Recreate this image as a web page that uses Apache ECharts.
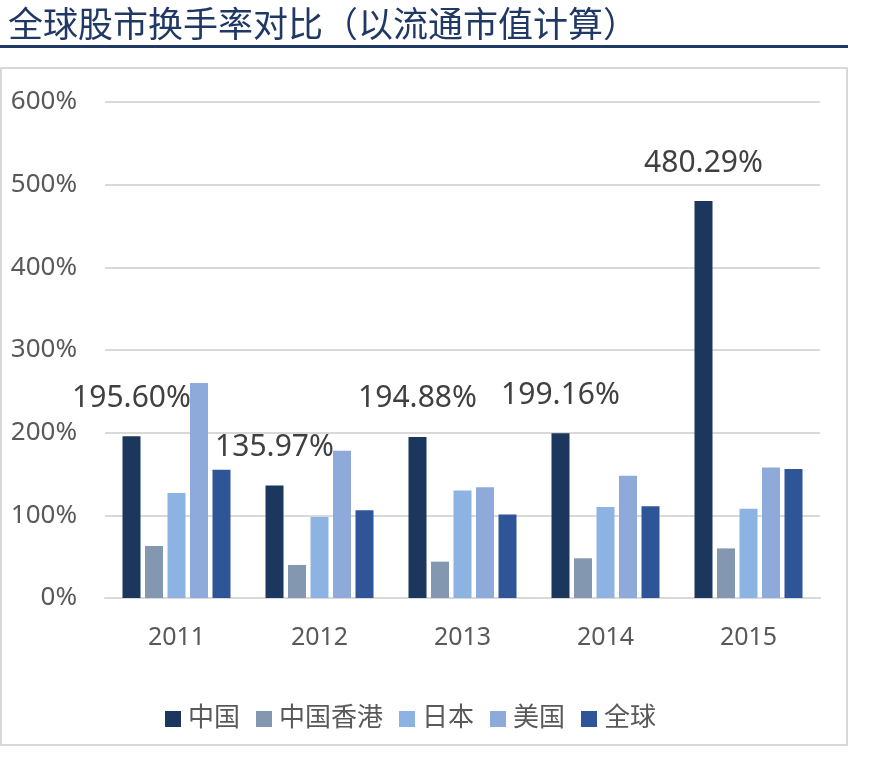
<!DOCTYPE html>
<html>
<head>
<meta charset="utf-8">
<script src="https://cdn.jsdelivr.net/npm/echarts@6/dist/echarts.min.js"></script>
<style>
html,body{margin:0;padding:0;background:#fff;}
#c{width:885px;height:757px;}
</style>
</head>
<body>
<div id="c"></div>
<script>
const categories = ['2011', '2012', '2013', '2014', '2015'];
const seriesNames = ['中国', '中国香港', '日本', '美国', '全球'];
const china = [195.60, 135.97, 194.88, 199.16, 480.29];
const hongKong = [63, 40, 44, 48, 60];
const japan = [127, 98, 130, 110, 108];
const usa = [260, 178, 134, 148, 158];
const world = [155, 106, 101, 111, 156];
const yTicks = [0, 100, 200, 300, 400, 500, 600];
const colors = ['#1b375e', '#8497b0', '#8db3e2', '#8eaadb', '#2e5597'];

const allData = [china, hongKong, japan, usa, world];
const FONT = "'Noto Sans', 'Noto Sans CJK SC', sans-serif";

const chart = echarts.init(document.getElementById('c'), null, {renderer: 'canvas'});
const series = seriesNames.map((name, i) => ({
  name: name,
  type: 'bar',
  data: allData[i],
  barWidth: 18,
  barGap: '25%',
  itemStyle: {color: colors[i]},
  label: i === 0 ? {
    show: true,
    position: 'top',
    distance: 23,
    formatter: p => p.value.toFixed(2) + '%',
    fontSize: 30,
    fontFamily: FONT,
    color: '#404040'
  } : {show: false}
}));

chart.setOption({
  animation: false,
  color: colors,
  title: {
    text: '全球股市换手率对比（以流通市值计算）',
    left: 3,
    top: 1,
    textStyle: {fontFamily: "'Noto Sans CJK SC', sans-serif", fontSize: 35, fontWeight: 'normal', color: '#1f3864'}
  },
  graphic: [
    {type: 'rect', shape: {x: 0, y: 45, width: 848, height: 3}, style: {fill: '#1f3864'}, silent: true},
    {type: 'rect', shape: {x: 1, y: 68, width: 846, height: 677}, style: {fill: 'none', stroke: '#d9d9d9', lineWidth: 2}, silent: true}
  ],
  legend: {
    data: seriesNames,
    left: 160,
    top: 701,
    itemWidth: 16,
    itemHeight: 16,
    itemGap: 16,
    icon: 'rect',
    textStyle: {fontFamily: FONT, fontSize: 26, color: '#595959', padding: [0, 0, 0, 2]}
  },
  grid: {left: 105, right: 65, top: 102, bottom: 159, containLabel: false},
  xAxis: {
    type: 'category',
    data: categories,
    axisLine: {show: true, lineStyle: {color: '#d9d9d9', width: 2}},
    axisTick: {show: false},
    axisLabel: {fontFamily: FONT, fontSize: 25, color: '#595959', margin: 27}
  },
  yAxis: {
    type: 'value',
    min: yTicks[0],
    max: yTicks[yTicks.length - 1],
    interval: 100,
    axisLine: {show: false},
    axisTick: {show: false},
    splitLine: {lineStyle: {color: '#d9d9d9', width: 2}},
    axisLabel: {fontFamily: FONT, fontSize: 26, color: '#595959', margin: 28, formatter: v => v + '%'}
  },
  series: series
});
</script>
</body>
</html>
